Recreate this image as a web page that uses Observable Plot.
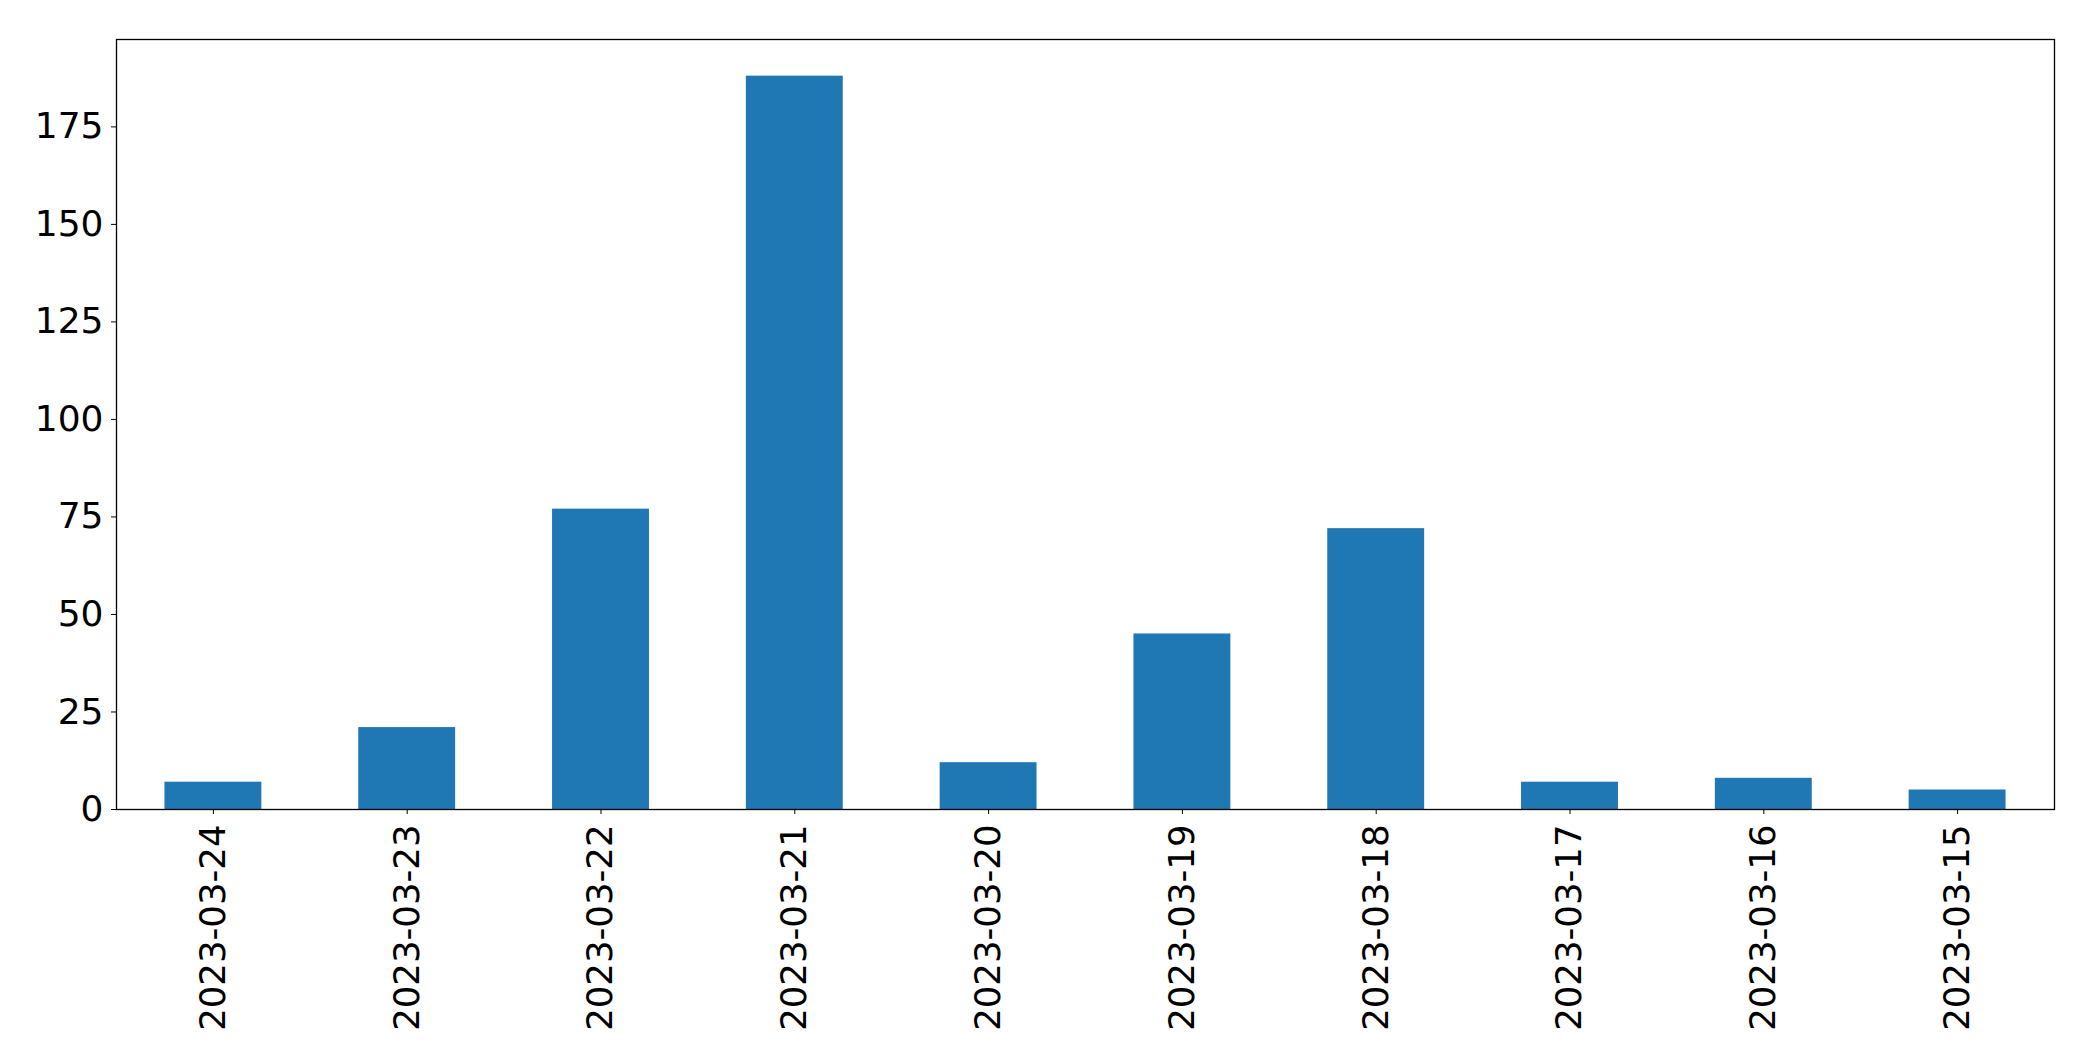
<!DOCTYPE html>
<html>
<head>
<meta charset="utf-8">
<script src="https://cdn.jsdelivr.net/npm/d3@7"></script>
<script src="https://cdn.jsdelivr.net/npm/@observablehq/plot@0.6"></script>
<style>
  html, body { margin: 0; padding: 0; background: #fff; }
  #chart svg { display: block; }
</style>
</head>
<body>
<div id="chart"></div>
<script>
const dates = ["2023-03-24","2023-03-23","2023-03-22","2023-03-21","2023-03-20","2023-03-19","2023-03-18","2023-03-17","2023-03-16","2023-03-15"];
const counts = [7, 21, 77, 188, 12, 45, 72, 7, 8, 5];
const yTicks = [0, 25, 50, 75, 100, 125, 150, 175];

const data = dates.map((d, i) => ({date: d, count: counts[i]}));

const chart = Plot.plot({
  width: 2093,
  height: 1061,
  marginLeft: 116,
  marginRight: 39,
  marginTop: 39,
  marginBottom: 252,
  style: {fontFamily: "DejaVu Sans", fontSize: "35.5px", color: "#000", background: "#fff"},
  x: {domain: dates, paddingInner: 0.5, paddingOuter: 0.25, round: false, label: null},
  y: {domain: [0, 197.4], label: null},
  marks: [
    Plot.barY(data, {x: "date", y: "count", fill: "#1f77b4"}),
    Plot.axisY({ticks: yTicks, tickSize: 5, tickPadding: 8, label: null, fontSize: 36}),
    Plot.axisX({tickSize: 5, tickPadding: 10, tickRotate: -90, label: null, fontSize: 35.5}),
    Plot.frame({stroke: "#000", strokeWidth: 1.3})
  ]
});
document.getElementById("chart").appendChild(chart);
</script>
</body>
</html>
